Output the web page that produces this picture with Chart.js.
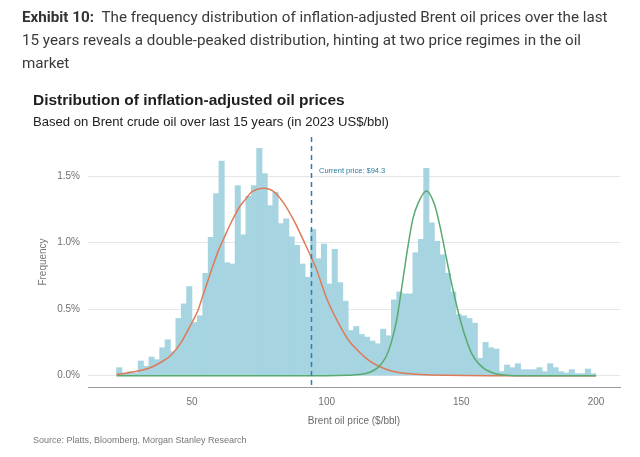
<!DOCTYPE html>
<html>
<head>
<meta charset="utf-8">
<script src="https://cdn.jsdelivr.net/npm/chart.js@4.4.0/dist/chart.umd.min.js"></script>
<style>
  html, body { margin:0; padding:0; background:#fff; }
  body { width:640px; height:457px; position:relative; overflow:hidden; }
  #chart { position:absolute; left:0; top:0; }
  .hdr { position:absolute; left:22px; top:6px; width:615px; font-family:Roboto, "Noto Sans", sans-serif; font-size:15.2px; line-height:23px; color:#3a3a3a; white-space:nowrap; }
  .hdr b { font-weight:700; color:#333; }
  .title { position:absolute; left:33px; top:91px; font-family:"Liberation Sans", Arial, sans-serif; font-size:15.5px; font-weight:700; color:#1e1e1e; white-space:nowrap; }
  .sub { position:absolute; left:33px; top:114px; font-family:"Liberation Sans", Arial, sans-serif; font-size:13.1px; color:#222; white-space:nowrap; }
  .src { position:absolute; left:33px; top:435px; font-family:"Liberation Sans", Arial, sans-serif; font-size:9px; color:#777; white-space:nowrap; }
</style>
</head>
<body>
<canvas id="chart" width="640" height="457"></canvas>
<div class="hdr"><b>Exhibit 10:</b>&nbsp;&nbsp;The frequency distribution of inflation-adjusted Brent oil prices over the last<br>15 years reveals a double-peaked distribution, hinting at two price regimes in the oil<br>market</div>
<div class="title">Distribution of inflation-adjusted oil prices</div>
<div class="sub">Based on Brent crude oil over last 15 years (in 2023 US$/bbl)</div>
<div class="src">Source: Platts, Bloomberg, Morgan Stanley Research</div>
<script>
// ---- data ----
const binStart = 22;      // first bin left edge ($/bbl)
const binWidth = 2;       // bin width ($/bbl)
const frequency = [
  0.06,0.02,0.03,0.02,0.11,0.07,0.14,0.12,0.21,0.27,
  0.18,0.43,0.54,0.67,0.40,0.45,0.77,1.04,1.37,1.615,
  0.85,0.84,1.43,1.06,1.35,1.43,1.71,1.52,1.28,1.38,
  1.145,1.18,1.045,0.98,0.84,0.74,1.10,0.88,0.99,0.69,
  0.95,0.70,0.56,0.34,0.37,0.31,0.29,0.26,0.24,0.35,
  0.30,0.57,0.63,0.615,0.615,0.925,1.025,1.56,1.15,1.01,
  0.91,0.77,0.63,0.46,0.45,0.43,0.395,0.13,0.25,0.21,
  0.20,0.03,0.08,0.06,0.09,0.045,0.045,0.045,0.06,0.03,
  0.09,0.06,0.03,0.02,0.045,0.015,0.015,0.05,0.015
];
const lowRegimeX = [22,26,30,34,38,42,46,50,52,54,56,58,60,62,64,66,68,70,72,74,77,80,84,88,92,96,100,104,108,112,116,120,124,128,135,145,160,200];
const lowRegimeY = [0.01,0.02,0.035,0.055,0.095,0.15,0.25,0.40,0.48,0.60,0.72,0.84,0.95,1.04,1.13,1.21,1.28,1.33,1.38,1.40,1.41,1.39,1.30,1.16,0.99,0.81,0.58,0.41,0.27,0.18,0.11,0.065,0.035,0.02,0.008,0.002,0,0];
const highRegimeX = [22,100,108,112,116,119,122,124,126,128,130,132,134,137,140,142,144,146,148,150,152,154,156,158,160,163,166,170,200];
const highRegimeY = [0,0,0.003,0.008,0.025,0.06,0.14,0.25,0.42,0.68,0.95,1.18,1.30,1.39,1.29,1.13,0.93,0.73,0.55,0.39,0.26,0.16,0.10,0.06,0.035,0.012,0.004,0,0];
const currentPrice = 94.3;
const xTicks = [50,100,150,200];
const yTicks = [0,0.5,1.0,1.5];

// ---- build ----
const barData = frequency.map((v,i)=>({x: binStart + binWidth*(i+0.5), y: v}));
const lowData = lowRegimeX.map((x,i)=>({x, y: lowRegimeY[i]}));
const highData = highRegimeX.map((x,i)=>({x, y: highRegimeY[i]}));

const currentPricePlugin = {
  id: 'currentPrice',
  afterDatasetsDraw(chart) {
    const {ctx, chartArea, scales:{x}} = chart;
    const px = Math.round(x.getPixelForValue(currentPrice)) + 0.5;
    ctx.save();
    ctx.strokeStyle = '#2f7fae';
    ctx.lineWidth = 1.5;
    ctx.setLineDash([5,4]);
    ctx.beginPath();
    ctx.moveTo(px, chartArea.top);
    ctx.lineTo(px, chartArea.bottom);
    ctx.stroke();
    ctx.setLineDash([]);
    ctx.fillStyle = '#2a7d9c';
    ctx.font = '7.5px "Liberation Sans", Arial, sans-serif';
    ctx.textBaseline = 'middle';
    ctx.fillText('Current price: $' + currentPrice, px + 7.5, chartArea.top + 34);
    ctx.restore();
  }
};

new Chart(document.getElementById('chart'), {
  data: {
    datasets: [
      { type:'line', data: highData, borderColor:'#58aa6e', borderWidth:1.5, pointRadius:0, cubicInterpolationMode:'monotone', fill:false, order:1 },
      { type:'line', data: lowData, borderColor:'#de7a58', borderWidth:1.5, pointRadius:0, cubicInterpolationMode:'monotone', fill:false, order:2 },
      { type:'bar', data: barData, backgroundColor:'#a6d4e1', borderWidth:0, barPercentage:1, categoryPercentage:1, order:3 }
    ]
  },
  options: {
    responsive:false,
    devicePixelRatio:1,
    animation:false,
    layout:{ padding:{ left:0, right:20, top:137, bottom:25 } },
    plugins:{ legend:{display:false}, tooltip:{enabled:false} },
    scales:{
      x:{
        type:'linear', min:11.4, max:208.9, offset:false,
        afterBuildTicks:(s)=>{ s.ticks = xTicks.map(v=>({value:v})); },
        afterFit:(s)=>{ s.height = 45; },
        grid:{ display:false, drawTicks:false, offset:false },
        border:{ display:true, color:'#9a9a9a', width:1 },
        ticks:{ padding:9, color:'#707070', font:{family:'"Liberation Sans", Arial, sans-serif', size:10}, maxRotation:0 },
        title:{ display:true, text:'Brent oil price ($/bbl)', color:'#6a6a6a', font:{family:'"Liberation Sans", Arial, sans-serif', size:10}, padding:{top:0,bottom:5} }
      },
      y:{
        type:'linear', min:-0.0855, max:1.7955,
        afterBuildTicks:(s)=>{ s.ticks = yTicks.map(v=>({value:v})); },
        afterFit:(s)=>{ s.width = 88; },
        grid:{ color:'#e6e6e6', lineWidth:1, drawTicks:false },
        border:{ display:false },
        ticks:{ padding:8, color:'#707070', font:{family:'"Liberation Sans", Arial, sans-serif', size:10}, callback:(v)=>v.toFixed(1)+'%' },
        title:{ display:true, text:'Frequency', color:'#777', font:{family:'"Liberation Sans", Arial, sans-serif', size:10}, padding:{top:37,bottom:0} }
      }
    }
  },
  plugins:[currentPricePlugin]
});
</script>
</body>
</html>
